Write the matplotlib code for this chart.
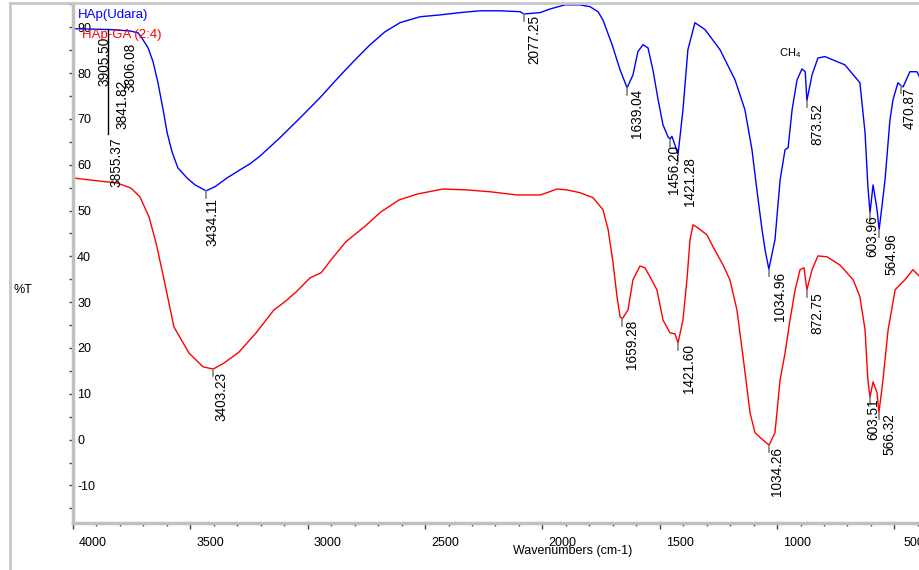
import matplotlib
matplotlib.use("Agg")
import matplotlib.pyplot as plt
import matplotlib.transforms as mtransforms
from matplotlib.lines import Line2D
from matplotlib.ticker import MultipleLocator

plt.rcParams['font.family'] = ['Liberation Sans', 'DejaVu Sans']
plt.rcParams['mathtext.default'] = 'regular'

# FTIR spectra (wavenumber cm-1, %T)
hap_wn = [4000, 3842, 3757, 3723, 3702, 3680, 3659, 3638, 3616, 3599, 3578, 3553,
          3514, 3480, 3433, 3395, 3344, 3288, 3246, 3203, 3118, 3033, 2948, 2863,
          2798, 2734, 2671, 2607, 2521, 2436, 2351, 2266, 2181, 2095, 2078, 2010,
          1967, 1904, 1840, 1797, 1763, 1742, 1703, 1669, 1639, 1614, 1593, 1571,
          1550, 1529, 1507, 1486, 1465, 1456, 1448, 1435, 1422, 1401, 1380, 1350,
          1307, 1243, 1179, 1137, 1107, 1086, 1064, 1051, 1035, 1009, 987, 966,
          953, 936, 915, 894, 880, 873, 851, 826, 796, 711, 647, 625, 613, 604,
          591, 574, 565, 540, 519, 506, 485, 471, 463, 434, 404, 391]
hap_t = [89.7, 89.5, 89.2, 88.8, 87.3, 85.5, 82.5, 77.9, 72.0, 67.0, 62.8, 59.3,
         57.1, 55.6, 54.3, 55.2, 57.1, 58.9, 60.2, 61.9, 65.9, 70.2, 74.6, 79.4,
         82.9, 86.2, 89.0, 91.0, 92.3, 92.7, 93.2, 93.6, 93.6, 93.4, 92.9, 93.2,
         94.0, 94.9, 94.9, 94.5, 93.4, 91.6, 86.2, 80.7, 76.8, 79.6, 84.7, 86.2,
         85.5, 80.7, 74.2, 68.7, 66.1, 65.6, 66.2, 64.3, 62.2, 72.0, 85.1, 91.0,
         89.5, 85.1, 78.5, 72.0, 63.3, 54.5, 45.8, 41.4, 37.2, 43.6, 56.7, 63.3,
         63.7, 72.0, 78.5, 80.9, 80.3, 74.0, 79.6, 83.3, 83.6, 81.8, 77.9, 66.9,
         55.2, 49.5, 55.6, 50.2, 45.8, 56.7, 69.8, 74.2, 77.9, 77.2, 77.0, 80.3,
         80.3, 79.0]

ga_wn = [4000, 3812, 3753, 3715, 3676, 3646, 3612, 3570, 3506, 3446, 3403, 3357,
         3293, 3220, 3144, 3097, 3050, 2990, 2943, 2901, 2837, 2760, 2688, 2611,
         2534, 2423, 2321, 2223, 2108, 2010, 1980, 1938, 1895, 1840, 1784, 1742,
         1720, 1699, 1682, 1669, 1659, 1635, 1614, 1584, 1563, 1541, 1512, 1486,
         1456, 1435, 1422, 1401, 1384, 1371, 1358, 1337, 1299, 1273, 1230, 1201,
         1171, 1145, 1115, 1094, 1060, 1034, 1009, 987, 966, 945, 923, 902, 885,
         873, 851, 826, 787, 732, 676, 647, 625, 613, 604, 591, 574, 566, 549,
         527, 497, 476, 455, 421, 391]
ga_t = [57.1, 56.0, 54.9, 53.0, 48.6, 42.9, 34.9, 24.6, 18.9, 15.9, 15.4, 16.7,
        19.1, 23.3, 28.3, 30.1, 32.2, 35.3, 36.4, 39.2, 43.2, 46.4, 49.7, 52.3,
        53.6, 54.7, 54.5, 54.1, 53.4, 53.4, 53.9, 54.7, 54.5, 53.9, 52.8, 50.2,
        45.9, 38.6, 31.2, 26.8, 26.4, 28.3, 34.9, 37.9, 37.5, 35.5, 32.7, 26.1,
        23.3, 23.1, 21.1, 26.1, 34.9, 43.6, 46.9, 46.2, 44.7, 42.1, 38.1, 34.9,
        28.3, 18.1, 5.8, 1.5, -0.1, -1.2, 1.5, 13.1, 18.9, 26.1, 32.7, 37.1, 37.5,
        32.7, 37.1, 40.1, 39.9, 38.1, 34.9, 31.2, 23.9, 13.0, 9.3, 12.6, 10.2,
        5.9, 12.9, 23.9, 32.7, 33.8, 34.9, 37.1, 35.5]

# peak labels: text, wavenumber, %T at the peak
hap_peaks = [("3434.11", 3433, 54.3), ("2077.25", 2078, 92.9), ("1639.04", 1639, 76.8),
             ("1456.20", 1456, 65.3), ("1421.28", 1422, 62.2), ("1034.96", 1035, 37.2),
             ("873.52", 873, 74.0), ("603.96", 604, 49.5), ("564.96", 565, 45.8),
             ("470.87", 471, 77.2)]
ga_peaks = [("3403.23", 3403, 15.4), ("1659.28", 1659, 26.4), ("1421.60", 1422, 21.1),
            ("1034.26", 1034, -1.2), ("872.75", 873, 32.7), ("603.51", 604, 9.3),
            ("566.32", 566, 5.9)]
# pixel offsets of the label text from its peak
hap_offsets = [(6, 7), (10, 1), (10, 1), (4, 5), (12, 2), (11, 3), (10, 3), (2, 2), (12, 3), (9, 1)]
ga_offsets = [(8, 3), (10, 1), (11, 1), (8, 2), (10, 2), (3, 1), (10, 1)]

# crowded labels at the top left (text position only)
left_labels = [("3905.50", 3864, 87.9), ("3806.08", 3757, 86.6),
               ("3841.82", 3791, 78.5), ("3855.37", 3813, 65.9)]

xticks = [4000, 3500, 3000, 2500, 2000, 1500, 1000, 500]
yticks = [-10, 0, 10, 20, 30, 40, 50, 60, 70, 80, 90]

fig = plt.figure(figsize=(9.2, 5.7), dpi=100)
ax = fig.add_axes([73 / 920, 47 / 570, 847 / 920, 520 / 570])

ax.plot(hap_wn, hap_t, color='#0000ff', lw=1.0)
ax.plot(ga_wn, ga_t, color='#ff0000', lw=1.0)

ax.set_xlim(4000, 391)
ax.set_ylim(-18.2, 95.3)

def label_peaks(peaks, offsets):
    for (txt, w, v), (dx, dy) in zip(peaks, offsets):
        ax.plot([w, w], [v - 0.1, v - 1.5], color='#808080', lw=1.2)
        ax.annotate(txt, xy=(w, v), xytext=(dx, -dy), textcoords='offset pixels',
                    rotation=90, ha='center', va='top', fontsize=9.8, color='black')

label_peaks(hap_peaks, hap_offsets)
label_peaks(ga_peaks, ga_offsets)

for txt, w, v in left_labels:
    ax.text(w, v, txt, rotation=90, ha='center', va='top', fontsize=9.8, color='black')
ax.plot([3851, 3851], [89.6, 66.7], color='black', lw=1.0)

ax.text(945, 84.4, r'CH$_4$', fontsize=8, ha='center', va='center')

# axes look
for s in ['top', 'right']:
    ax.spines[s].set_visible(False)
for s in ['left', 'bottom']:
    ax.spines[s].set_color('#c0c0c0')
    ax.spines[s].set_linewidth(2.5)

ax.set_xticks(xticks)
ax.set_xticklabels([str(t) for t in xticks])
ax.xaxis.set_minor_locator(MultipleLocator(100))
ax.set_yticks(yticks)
ax.set_yticklabels([str(t) for t in yticks])
ax.yaxis.set_minor_locator(MultipleLocator(5))
ax.tick_params(axis='x', which='major', length=4, width=1, color='#404040', labelsize=9, pad=6)
ax.tick_params(axis='x', which='minor', length=2, width=1, color='#404040')
ax.tick_params(axis='y', which='major', length=3, width=1, color='#404040', labelsize=9, pad=-6)
ax.tick_params(axis='y', which='minor', length=3, width=1, color='#404040')

shift = mtransforms.ScaledTranslation(0.2, 0, fig.dpi_scale_trans)
for lbl in ax.xaxis.get_majorticklabels():
    lbl.set_transform(lbl.get_transform() + shift)
for lbl in ax.yaxis.get_majorticklabels():
    lbl.set_horizontalalignment('left')

# legend and axis titles
fig.text(78 / 920, 1 - 15 / 570, 'HAp(Udara)', color='#0000ff', fontsize=9.5, va='center')
fig.text(82 / 920, 1 - 35 / 570, 'HAp-GA (2:4)', color='#ff0000', fontsize=9.5, va='center')
fig.text(573 / 920, 1 - 551 / 570, 'Wavenumbers (cm-1)', fontsize=9, ha='center', va='center')
fig.text(23 / 920, 1 - 290 / 570, '%T', fontsize=9, ha='center', va='center')

# outer grey frame
fig.add_artist(Line2D([10 / 920, 10 / 920], [0, 1 - 3 / 570], color='#c8c8c8', lw=2))
fig.add_artist(Line2D([10 / 920, 1], [1 - 3 / 570, 1 - 3 / 570], color='#c8c8c8', lw=2))

fig.savefig('out.png', dpi=100)
